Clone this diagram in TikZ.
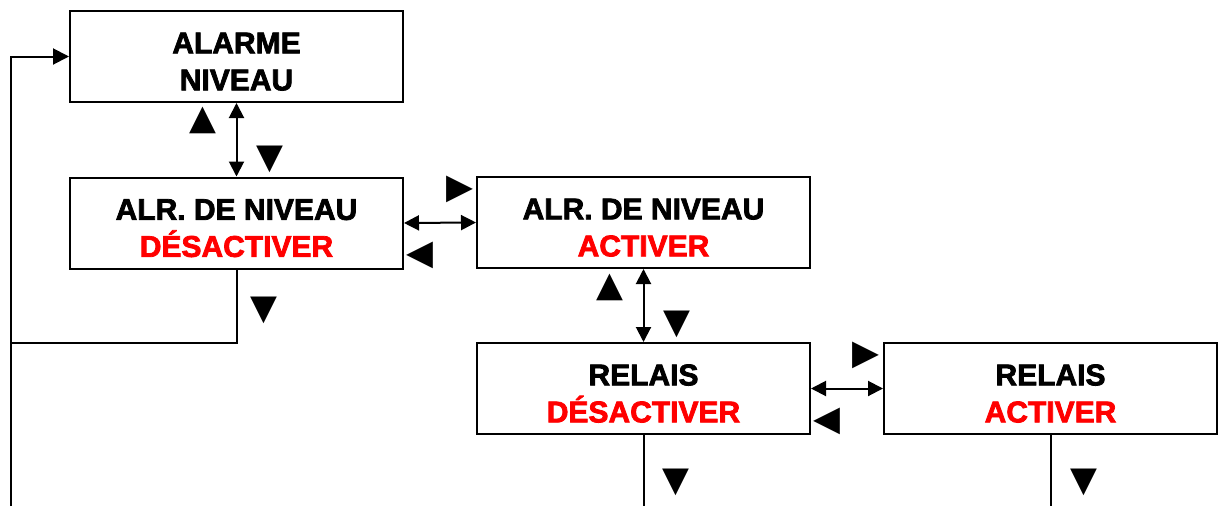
\documentclass[tikz,border=0pt]{standalone}
\usepackage{fontspec}
\setmainfont{Liberation Sans}
\newfontfamily\boxfont{Liberation Sans Bold}[FakeBold=2.5]
\newfontfamily\symfont{DejaVu Sans}
\usetikzlibrary{arrows.meta}
\definecolor{txtred}{RGB}{255,0,0}
\newcommand{\firststrut}{\rule{0pt}{31pt}}
\begin{document}
\begin{tikzpicture}[x=1pt,y=-1pt,
  box/.style={draw,line width=2pt,minimum width=333pt,minimum height=91pt,inner sep=0pt,
    align=center,font=\boxfont\fontsize{30}{37}\selectfont},
  link/.style={line width=2pt,{Triangle[length=15pt,width=15pt]}-{Triangle[length=15pt,width=15pt]}},
  feed/.style={line width=2pt},
  feedin/.style={line width=2pt,-{Triangle[length=16pt,width=16pt]}},
  sym/.style={inner sep=0pt,font=\symfont\fontsize{35}{35}\selectfont}]
\useasboundingbox (0,0) rectangle (1226,506);
\node[box] (A) at (236.5,56.5) {\firststrut ALARME\\NIVEAU};
\node[box] (B) at (236.5,223) {\firststrut ALR. DE NIVEAU\\\textcolor{txtred}{DÉSACTIVER}};
\node[box] (C) at (643.5,222.5) {\firststrut ALR. DE NIVEAU\\\textcolor{txtred}{ACTIVER}};
\node[box] (D) at (643.5,388.5) {\firststrut RELAIS\\\textcolor{txtred}{DÉSACTIVER}};
\node[box] (E) at (1050.5,388.5) {\firststrut RELAIS\\\textcolor{txtred}{ACTIVER}};
\draw[link] (A.south) -- (B.north);
\draw[link] (B.east) -- (C.west);
\draw[link] (C.south) -- (D.north);
\draw[link] (D.east) -- (E.west);
\coordinate (corner) at (11,343);
\coordinate (leftbottom) at (11,506);
\coordinate (leftTop) at (11,56.5);
\coordinate (Dend) at (643.5,506);
\coordinate (Eend) at (1050.5,506);
\draw[feed] (B.south) |- (corner);
\draw[feedin] (leftbottom) -- (leftTop) -- (A.west);
\draw[feed] (D.south) -- (Dend);
\draw[feed] (E.south) -- (Eend);
\node[sym] (s1) at (203,120) {▲};
\node[sym] (s2) at (270,159) {▼};
\node[sym] (s3) at (460,189) {▶};
\node[sym] (s4) at (420,255) {◀};
\node[sym] (s5) at (264,310) {▼};
\node[sym] (s6) at (610,287) {▲};
\node[sym] (s7) at (677,324) {▼};
\node[sym] (s8) at (866,355) {▶};
\node[sym] (s9) at (827,421) {◀};
\node[sym] (s10) at (676,482) {▼};
\node[sym] (s11) at (1084,482) {▼};
\end{tikzpicture}
\end{document}
